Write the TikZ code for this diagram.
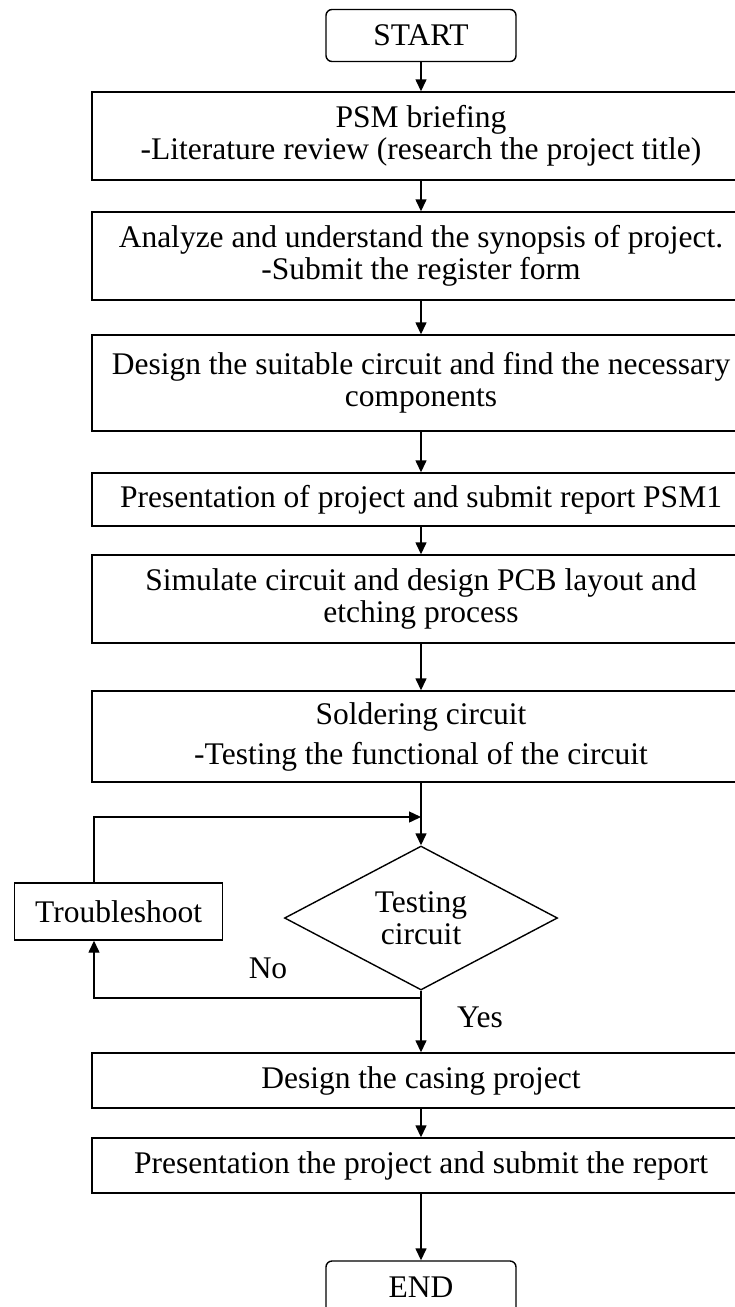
\documentclass[tikz,border=0pt]{standalone}
\usepackage{fontspec}
\setmainfont{Liberation Serif}
\usepackage{tikz}
\usetikzlibrary{shapes.geometric,arrows.meta,positioning,calc}

\begin{document}
\begin{tikzpicture}[x=1pt, y=-1pt,
    stepbox/.style={rectangle, draw, line width=1.4pt, minimum width=658pt,
        align=center, inner sep=0pt, font=\fontsize{31.5}{32}\selectfont},
    term/.style={rectangle, draw, line width=1.4pt, rounded corners=6pt,
        minimum width=190pt, minimum height=52pt, inner sep=0pt,
        font=\fontsize{31.5}{32}\selectfont},
    check/.style={diamond, draw, line width=1.4pt, aspect=1.9,
        minimum width=273pt, minimum height=144pt, inner sep=0pt,
        align=center, font=\fontsize{31.5}{32}\selectfont},
    side/.style={rectangle, draw, line width=1.4pt, minimum width=208pt,
        minimum height=57pt, inner sep=0pt, font=\fontsize{31.5}{32}\selectfont},
    lbl/.style={font=\fontsize{31.5}{32}\selectfont, inner sep=0pt},
    arr/.style={-{Triangle[length=12pt,width=11pt]}, line width=1.4pt}
]
    \useasboundingbox (0,0) rectangle (735,1307);

    % ---- Main sequence ----
    \node[term] (start) at (421,35.5) {START};
    \node[stepbox, minimum height=88pt] (brief) at (421,136)
        {PSM briefing\\-Literature review (research the project title)};
    \node[stepbox, minimum height=88pt] (synop) at (421,256)
        {Analyze and understand the synopsis of project.\\-Submit the register form};
    \node[stepbox, minimum height=96pt] (design) at (421,383)
        {Design the suitable circuit and find the necessary\\components};
    \node[stepbox, minimum height=53pt] (psm) at (421,499.5)
        {Presentation of project and submit report PSM1};
    \node[stepbox, minimum height=88pt] (pcb) at (421,599)
        {Simulate circuit and design PCB layout and\\etching process};
    \node[stepbox, minimum height=91pt] (solder) at (421,736.5)
        {Soldering circuit\\[8pt]-Testing the functional of the circuit};

    \draw[arr] (start) -- (brief);
    \draw[arr] (brief) -- (synop);
    \draw[arr] (synop) -- (design);
    \draw[arr] (design) -- (psm);
    \draw[arr] (psm) -- (pcb);
    \draw[arr] (pcb) -- (solder);

    % ---- Test loop ----
    \node[check] (test) at (421,918) {Testing\\circuit};
    \node[side] (trbl) at (118.6,911.5) {Troubleshoot};
    \coordinate (merge) at (421,817);
    \coordinate (back) at (421,998);

    \draw[arr] (solder) -- (test);
    \draw[arr] ([xshift=-24.6pt]trbl.north) |- (merge);
    \draw[arr] (back) -| ([xshift=-24.6pt]trbl.south);
    \node[lbl] (no) at (268,968) {No};
    \node[lbl] (yes) at (480,1017) {Yes};

    % ---- After testing ----
    \node[stepbox, minimum height=55pt] (casing) at (421,1080.5)
        {Design the casing project};
    \node[stepbox, minimum height=55pt] (report) at (421,1165.5)
        {Presentation the project and submit the report};
    \node[term] (end) at (421,1287) {END};

    \draw[arr] (test) -- (casing);
    \draw[arr] (casing) -- (report);
    \draw[arr] (report) -- (end);
\end{tikzpicture}
\end{document}
